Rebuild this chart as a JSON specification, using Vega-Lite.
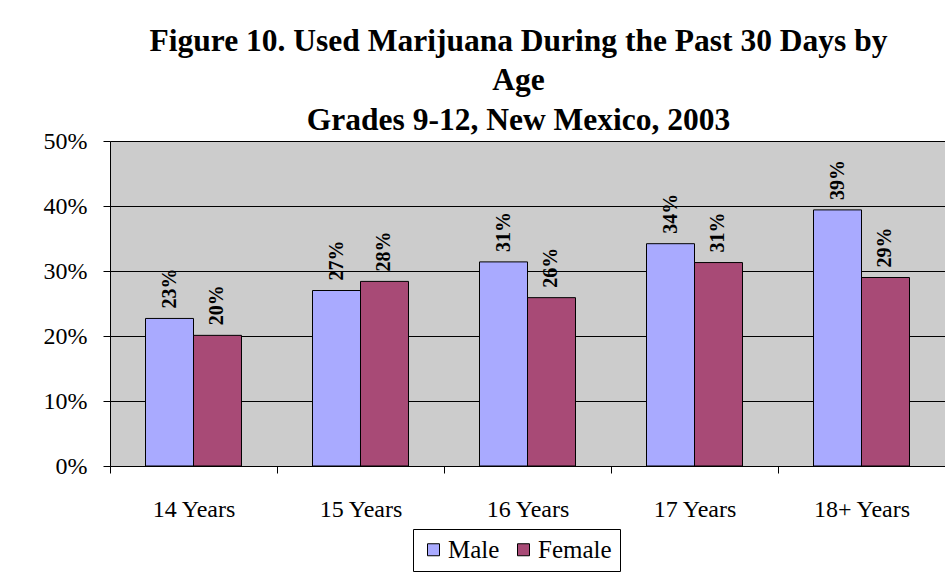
{
  "$schema": "https://vega.github.io/schema/vega-lite/v6.json",
  "width": 835,
  "height": 325,
  "autosize": {"type": "none"},
  "padding": {"left": 110, "top": 141, "right": 0, "bottom": 112},
  "background": "white",
  "title": {
    "text": ["Figure 10. Used Marijuana During the Past 30 Days by", "Age", "Grades 9-12, New Mexico, 2003"],
    "font": "Liberation Serif",
    "fontWeight": "bold",
    "fontSize": 31.5,
    "lineHeight": 39.5,
    "color": "black",
    "anchor": "middle",
    "dx": -9,
    "offset": -7
  },
  "data": {
    "values": [
      {"age": "14 Years", "sex": "Male", "pct": 0.227},
      {"age": "14 Years", "sex": "Female", "pct": 0.201},
      {"age": "15 Years", "sex": "Male", "pct": 0.270},
      {"age": "15 Years", "sex": "Female", "pct": 0.284},
      {"age": "16 Years", "sex": "Male", "pct": 0.314},
      {"age": "16 Years", "sex": "Female", "pct": 0.259},
      {"age": "17 Years", "sex": "Male", "pct": 0.342},
      {"age": "17 Years", "sex": "Female", "pct": 0.313},
      {"age": "18+ Years", "sex": "Male", "pct": 0.394},
      {"age": "18+ Years", "sex": "Female", "pct": 0.290}
    ]
  },
  "encoding": {
    "x": {
      "field": "age",
      "type": "nominal",
      "sort": null,
      "scale": {"paddingInner": 0, "paddingOuter": 0},
      "axis": {
        "title": null,
        "labelAngle": 0,
        "labelFont": "Liberation Serif",
        "labelFontSize": 24,
        "labelColor": "black",
        "labelPadding": 24,
        "tickBand": "extent",
        "tickSize": 7,
        "tickColor": "black",
        "domainColor": "black",
        "grid": false
      }
    },
    "xOffset": {
      "field": "sex",
      "type": "nominal",
      "sort": ["Male", "Female"],
      "scale": {"paddingInner": 0, "paddingOuter": 0.74}
    },
    "y": {
      "field": "pct",
      "type": "quantitative",
      "scale": {"domain": [0, 0.5], "nice": false},
      "axis": {
        "title": null,
        "values": [0, 0.1, 0.2, 0.3, 0.4, 0.5],
        "format": ".0%",
        "labelFont": "Liberation Serif",
        "labelFontSize": 24,
        "labelColor": "black",
        "labelPadding": 16,
        "tickSize": 7,
        "tickColor": "black",
        "domainColor": "black",
        "grid": true,
        "gridColor": "black",
        "gridOpacity": 1,
        "gridWidth": 1
      }
    }
  },
  "layer": [
    {
      "mark": {"type": "bar", "stroke": "black", "strokeWidth": 1},
      "encoding": {
        "color": {
          "field": "sex",
          "type": "nominal",
          "sort": ["Male", "Female"],
          "scale": {"domain": ["Male", "Female"], "range": ["#A9AAFF", "#A84A76"]},
          "legend": {
            "title": null,
            "orient": "none",
            "legendX": 303,
            "legendY": 388,
            "direction": "horizontal",
            "strokeColor": "black",
            "fillColor": "white",
            "padding": 8,
            "symbolType": "square",
            "symbolSize": 144,
            "symbolStrokeColor": "black",
            "symbolStrokeWidth": 1,
            "symbolOpacity": 1,
            "labelFont": "Liberation Serif",
            "labelFontSize": 25,
            "labelColor": "black",
            "columnPadding": 11,
            "labelOffset": 2
          }
        }
      }
    },
    {
      "mark": {
        "type": "text",
        "angle": 270,
        "align": "left",
        "baseline": "middle",
        "dx": 10,
        "font": "Liberation Serif",
        "fontWeight": "bold",
        "fontSize": 20,
        "color": "black"
      },
      "encoding": {
        "text": {"field": "pct", "type": "quantitative", "format": ".0%"}
      }
    }
  ],
  "config": {
    "font": "Liberation Serif",
    "axis": {"labelFont": "Liberation Serif"},
    "legend": {"labelFont": "Liberation Serif"},
    "view": {"stroke": null, "fill": "#CCCCCC"}
  }
}
